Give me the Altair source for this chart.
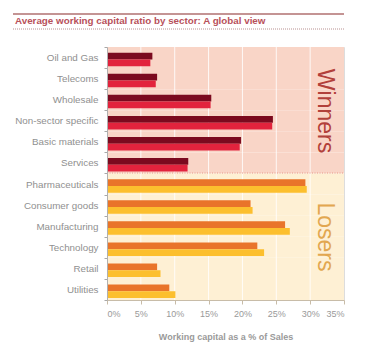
import altair as alt
import pandas as pd

sectors = ["Oil and Gas", "Telecoms", "Wholesale", "Non-sector specific",
           "Basic materials", "Services", "Pharmaceuticals", "Consumer goods",
           "Manufacturing", "Technology", "Retail", "Utilities"]
groups = ["Winners"] * 6 + ["Losers"] * 6
series_a = [6.7, 7.4, 15.4, 24.5, 19.8, 12.0, 29.3, 21.2, 26.3, 22.2, 7.4, 9.2]
series_b = [6.4, 7.2, 15.3, 24.4, 19.6, 11.9, 29.5, 21.5, 27.0, 23.2, 7.9, 10.1]
x_ticks = [0, 5, 10, 15, 20, 25, 30, 35]
grid_ticks = [5, 10, 15, 20, 25, 30]

W, H = 237, 253

rows = []
for s, g, a, b in zip(sectors, groups, series_a, series_b):
    rows.append({"sector": s, "group": g, "series": "a", "key": g + "-a", "value": a})
    rows.append({"sector": s, "group": g, "series": "b", "key": g + "-b", "value": b})
bars_df = pd.DataFrame(rows)
bg_df = pd.DataFrame({"sector": sectors, "group": groups})
grid_df = pd.DataFrame({"t": grid_ticks})
one = pd.DataFrame({"a": [0]})

yenc = alt.Y("sector:N", sort=sectors,
             scale=alt.Scale(paddingInner=0, paddingOuter=0),
             axis=alt.Axis(title=None, labelColor="#909090", labelFontSize=9.8,
                           labelFont="Liberation Sans", tickBand="extent",
                           tickSize=3, tickColor="#a8a8a8", domainColor="#b0b0b0",
                           labelPadding=6))
xscale = alt.Scale(domain=[0, 35], nice=False, zero=True)
xaxis = alt.Axis(values=x_ticks, labelExpr="datum.value + '%'",
                 grid=False, title="Working capital as a % of Sales",
                 titleColor="#9a9a9a", titleFontSize=9, titleFontWeight="bold",
                 titleFont="Liberation Sans", titlePadding=14,
                 labelColor="#9a9a9a", labelFontSize=9,
                 labelFont="Liberation Sans", labelPadding=5,
                 tickColor="#c8bca8", domainColor="#c8bca8", tickSize=4)

bg = alt.Chart(bg_df).mark_rect().encode(
    y=yenc,
    x=alt.X(datum=0, scale=xscale, axis=xaxis),
    x2=alt.X2(datum=35),
    fill=alt.Fill("group:N", scale=alt.Scale(domain=["Winners", "Losers"],
                                             range=["#f9d5c7", "#fef0d4"]), legend=None),
)

grid = alt.Chart(grid_df).mark_rule(color="white", strokeWidth=1, opacity=0.85).encode(
    x=alt.X("t:Q", scale=xscale, axis=xaxis),
    y=alt.value(0), y2=alt.value(H),
)

bars = alt.Chart(bars_df).mark_bar().encode(
    y=yenc,
    x=alt.X("value:Q", scale=xscale, axis=xaxis),
    yOffset=alt.YOffset("series:N", scale=alt.Scale(paddingInner=0, paddingOuter=0.56, align=0.75)),
    color=alt.Color("key:N", scale=alt.Scale(
        domain=["Winners-a", "Winners-b", "Losers-a", "Losers-b"],
        range=["#7b0a1f", "#e2233d", "#e9742a", "#fcbf2e"]), legend=None),
)

sep = alt.Chart(one).mark_rule(color="#e89a88", strokeDash=[1, 1.5], strokeWidth=1).encode(
    x=alt.value(0), x2=alt.value(W), y=alt.value(126))

win = alt.Chart(one).mark_text(text="Winners", angle=90, fontSize=23, font="Liberation Sans",
                               color="#b2403a", align="center", baseline="middle").encode(
    x=alt.value(218), y=alt.value(64))
los = alt.Chart(one).mark_text(text="Losers", angle=90, fontSize=23, font="Liberation Sans",
                               color="#e2a750", align="center", baseline="middle").encode(
    x=alt.value(218), y=alt.value(190))

title = alt.Chart(one).mark_text(text="Average working capital ratio by sector: A global view",
                                 fontSize=9.8, fontWeight="bold", font="Liberation Sans",
                                 color="#b8505a", align="left", baseline="alphabetic").encode(
    x=alt.value(-92), y=alt.value(-23))
topline = alt.Chart(one).mark_rule(color="#c49494", strokeWidth=2).encode(
    x=alt.value(-94), x2=alt.value(W), y=alt.value(-33))
dotline = alt.Chart(one).mark_rule(color="#b89090", strokeWidth=1, strokeDash=[1, 1]).encode(
    x=alt.value(-94), x2=alt.value(W), y=alt.value(-18))

chart = alt.layer(bg, grid, bars, sep, win, los, title, topline, dotline).resolve_scale(
    color="independent"
).properties(
    width=W, height=H,
    autosize=alt.AutoSizeParams(type="none"),
    padding={"left": 107, "top": 47, "right": 24, "bottom": 57},
).configure_view(stroke=None).configure(background="white")

chart.save("out.html", embed_options={"renderer": "svg", "actions": False})
